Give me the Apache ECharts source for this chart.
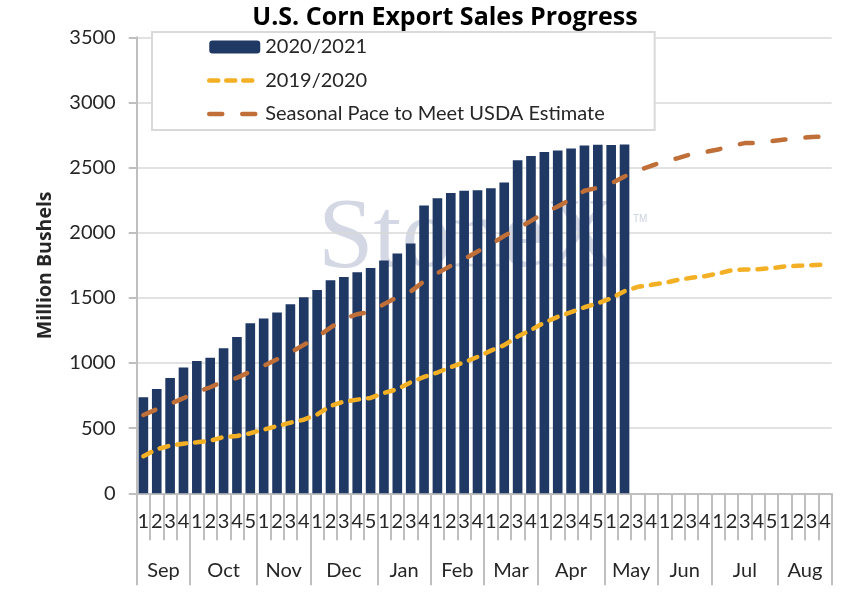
<!DOCTYPE html>
<html>
<head>
<meta charset="utf-8">
<script src="https://cdn.jsdelivr.net/npm/echarts@6/dist/echarts.min.js"></script>
<style>
html,body{margin:0;padding:0;background:#fff;}
#chart{width:850px;height:612px;}
</style>
</head>
<body>
<div id="chart"></div>
<script>
// ---- data ----
var months = ['Sep','Oct','Nov','Dec','Jan','Feb','Mar','Apr','May','Jun','Jul','Aug'];
var weeksPerMonth = [4,5,4,5,4,4,4,5,4,4,5,4];
var yTicks = [0,500,1000,1500,2000,2500,3000,3500];

var sales2021 = [737,801,885,965,1016,1041,1113,1200,1305,1341,1387,1451,1505,1561,1636,1661,1697,1730,1786,1840,1917,2209,2265,2304,2322,2327,2342,2386,2557,2588,2619,2631,2647,2670,2675,2673,2677];
var sales1920 = [285,338,366,381,392,404,432,440,461,489,515,542,565,605,670,704,719,732,770,799,852,893,927,968,1006,1047,1095,1137,1203,1254,1310,1354,1390,1428,1459,1497,1551,1585,1600,1615,1638,1654,1666,1687,1712,1718,1720,1728,1741,1746,1751,1756];
var seasonalPace = [601,645,686,730,776,814,857,886,934,978,1029,1080,1139,1200,1272,1339,1375,1392,1452,1505,1549,1628,1690,1746,1797,1856,1910,1976,2032,2091,2153,2201,2258,2322,2345,2378,2432,2478,2514,2547,2573,2603,2619,2639,2667,2688,2690,2703,2716,2726,2734,2739];

// ---- derived axis helpers ----
var weekLabels = [];
var monthBounds = [0];
var monthCenters = [];
var acc = 0;
weeksPerMonth.forEach(function(n){
  for (var i = 1; i <= n; i++) weekLabels.push(String(i));
  monthCenters.push(acc + n / 2);
  acc += n;
  monthBounds.push(acc);
});

var FONT = 'Lato';
var TXT = '#262626';
var AXIS = '#bfbfbf';
var YELLOW = '#f4b025';
var BROWN = '#bf6f37';

var chart = echarts.init(document.getElementById('chart'), null, {renderer: 'canvas'});
chart.setOption({
  animation: false,
  backgroundColor: '#ffffff',
  textStyle: {fontFamily: FONT},
  title: {
    text: 'U.S. Corn Export Sales Progress',
    left: 440, top: 0, textAlign: 'center',
    textStyle: {fontFamily: 'Open Sans', fontSize: 25, fontWeight: 'bold', color: '#000'}
  },
  graphic: [
    {type: 'text', left: 318, top: 190, z: -10, silent: true,
     style: {text: 'StoneX', font: '100px "Liberation Serif"', fill: 'rgba(150,163,190,0.42)'}},
    {type: 'text', left: 633, top: 214, z: -10, silent: true,
     style: {text: 'TM', font: '10px "Liberation Sans"', fill: 'rgba(150,163,190,0.5)'}}
  ],
  legend: {
    left: 152, top: 32,
    orient: 'vertical',
    backgroundColor: '#fff',
    borderColor: '#d9d9d9', borderWidth: 2,
    padding: [5, 50, 6, 55],
    itemWidth: 51, itemHeight: 13, itemGap: 13.5,
    textStyle: {fontFamily: FONT, fontSize: 20, color: TXT, lineHeight: 20},
    data: [
      {name: '2020/2021', itemStyle: {borderWidth: 0}},
      {name: '2019/2020', itemStyle: {opacity: 0}, lineStyle: {width: 4.5, type: [9, 8], cap: 'round', color: YELLOW}},
      {name: 'Seasonal Pace to Meet USDA Estimate', itemStyle: {opacity: 0}, lineStyle: {width: 4.5, type: [13, 20], cap: 'round', color: BROWN}}
    ]
  },
  grid: {left: 136.7, right: 18.3, top: 37.3, bottom: 118.7, containLabel: false},
  xAxis: [
    {
      type: 'category', data: weekLabels, position: 'bottom',
      boundaryGap: true,
      axisLine: {show: true, lineStyle: {color: AXIS, width: 2}},
      axisTick: {show: true, interval: 0, length: 47, lineStyle: {color: AXIS, width: 2}},
      axisLabel: {interval: 0, margin: 18, fontSize: 20, color: TXT, fontFamily: FONT},
      splitLine: {show: false}
    },
    {
      type: 'value', min: 0, max: 52, position: 'bottom',
      axisLine: {show: false},
      axisTick: {show: true, customValues: monthBounds, length: 92, lineStyle: {color: AXIS, width: 2}},
      axisLabel: {
        customValues: monthCenters, margin: 67, fontSize: 20, color: TXT, fontFamily: FONT,
        formatter: function(v){ var i = monthCenters.indexOf(v); return i >= 0 ? months[i] : ''; }
      },
      splitLine: {show: false}
    }
  ],
  yAxis: {
    type: 'value', min: yTicks[0], max: yTicks[yTicks.length - 1], interval: 500,
    name: 'Million Bushels', nameLocation: 'middle', nameGap: 81,
    nameTextStyle: {fontFamily: 'Open Sans', fontSize: 19.5, fontWeight: 'bold', color: TXT},
    axisLine: {show: true, lineStyle: {color: AXIS, width: 2}},
    axisTick: {show: true, length: 8, lineStyle: {color: AXIS, width: 2}},
    axisLabel: {margin: 21, fontSize: 20, color: TXT, fontFamily: FONT,
      formatter: function(v){ return String(v); }},
    splitLine: {show: true, lineStyle: {color: '#d9d9d9', width: 1.5}}
  },
  series: [
    {
      name: '2020/2021', type: 'bar', xAxisIndex: 0, data: sales2021,
      barWidth: '72%',
      itemStyle: {color: '#1f3864'},
      z: 2
    },
    {
      name: '2019/2020', type: 'line', xAxisIndex: 0, data: sales1920,
      symbol: 'none', smooth: false,
      lineStyle: {color: YELLOW, width: 4.5, type: [9, 9], cap: 'round'},
      itemStyle: {color: YELLOW},
      z: 3
    },
    {
      name: 'Seasonal Pace to Meet USDA Estimate', type: 'line', xAxisIndex: 0, data: seasonalPace,
      symbol: 'none', smooth: false,
      lineStyle: {color: BROWN, width: 4.5, type: [13, 20], cap: 'round'},
      itemStyle: {color: BROWN},
      z: 4
    }
  ]
});
</script>
</body>
</html>
